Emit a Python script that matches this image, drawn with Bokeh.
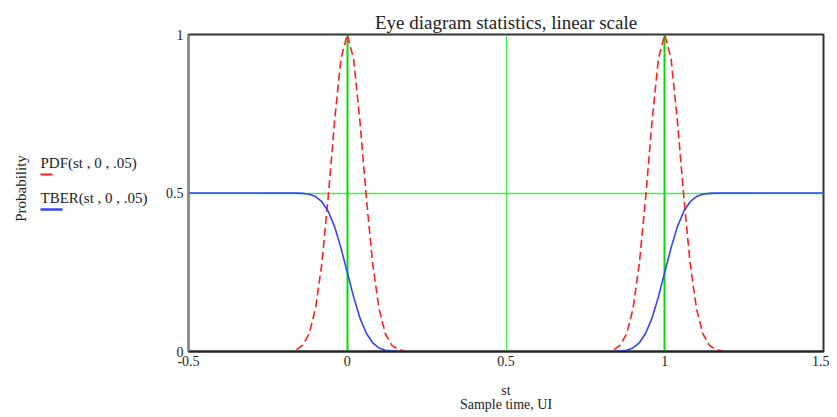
import math
from bokeh.plotting import figure
from bokeh.layouts import row
from bokeh.models import Range1d, FixedTicker, Grid
from bokeh.core.properties import value
from bokeh.embed import file_html
from bokeh.resources import INLINE

NAN = float("nan")

# ---- data ----
# PDF(st, 0, .05): two pulses (around 0 and around 1), gap between them
pdf_x = [-0.16, -0.14, -0.12, -0.10, -0.08, -0.06, -0.04, -0.02, 0.00,
         0.02, 0.04, 0.06, 0.08, 0.10, 0.12, 0.14, 0.16, 0.18,
         NAN,
         0.84, 0.86, 0.88, 0.90, 0.92, 0.94, 0.96, 0.98, 1.00,
         1.02, 1.04, 1.06, 1.08, 1.10, 1.12, 1.14, 1.16, 1.18]
pdf_y = [0.006, 0.02, 0.056, 0.135, 0.278, 0.487, 0.726, 0.923, 1.0,
         0.923, 0.726, 0.487, 0.278, 0.135, 0.056, 0.02, 0.006, 0.002,
         NAN,
         0.006, 0.02, 0.056, 0.135, 0.278, 0.487, 0.726, 0.923, 1.0,
         0.923, 0.726, 0.487, 0.278, 0.135, 0.056, 0.02, 0.006, 0.002]

# TBER(st, 0, .05)
tber_x = [-0.50, -0.16, -0.14, -0.12, -0.10, -0.08, -0.06, -0.04, -0.02, 0.00,
          0.02, 0.04, 0.06, 0.08, 0.10, 0.12, 0.14, 0.16,
          NAN,
          0.84, 0.86, 0.88, 0.90, 0.92, 0.94, 0.96, 0.98, 1.00,
          1.02, 1.04, 1.06, 1.08, 1.10, 1.12, 1.14, 1.16, 1.50]
tber_y = [0.5, 0.4997, 0.4987, 0.4959, 0.4886, 0.4726, 0.4425, 0.3941, 0.3277, 0.25,
          0.1723, 0.1059, 0.0575, 0.0274, 0.0114, 0.0041, 0.0013, 0.0003,
          NAN,
          0.0003, 0.0013, 0.0041, 0.0114, 0.0274, 0.0575, 0.1059, 0.1723, 0.25,
          0.3277, 0.3941, 0.4425, 0.4726, 0.4886, 0.4959, 0.4987, 0.4997, 0.5]

x_ticks = [-0.5, 0, 0.5, 1, 1.5]
x_tick_labels = ["-0.5", "0", "0.5", "1", "1.5"]
y_ticks = [0, 0.5, 1]
y_tick_labels = ["0", "0.5", "1"]

title_text = "Eye diagram statistics, linear scale"
x_label_1 = "st"
x_label_2 = "Sample time, UI"
y_label = "Probability"
legend_texts = ["PDF(st , 0 , .05)", "TBER(st , 0 , .05)"]
legend_colors = ["#ff2020", "#3344ff"]

FONT = "Liberation Serif"
TXT = "#222222"
H = 415
LEFT_W = 160
FRAME_TOP = 34
FRAME_BOTTOM = 351

# ---------------- main plot ----------------
p = figure(width=829 - LEFT_W, height=H, output_backend="svg", toolbar_location=None,
           x_range=Range1d(-0.5, 1.5), y_range=Range1d(0, 1),
           min_border_left=188 - LEFT_W, min_border_right=6,
           min_border_top=FRAME_TOP, min_border_bottom=H - FRAME_BOTTOM,
           background_fill_color="white", border_fill_color="white")

p.title.text = title_text
p.title.align = "center"
p.title.text_font = FONT
p.title.text_font_size = "19px"
p.title.text_font_style = "normal"
p.title.text_color = TXT
p.title.standoff = 4

p.outline_line_color = "#333333"
p.outline_line_width = 2

# grids
p.xgrid.ticker = FixedTicker(ticks=[0.5])
p.xgrid.grid_line_color = "#44ee44"
p.xgrid.grid_line_width = 1.2
p.ygrid.ticker = FixedTicker(ticks=[0.5])
p.ygrid.grid_line_color = "#44ee44"
p.ygrid.grid_line_width = 1.5
g2 = Grid(dimension=0, ticker=FixedTicker(ticks=[0, 1]),
          grid_line_color="#00dd00", grid_line_width=2)
p.add_layout(g2)

# axes
for ax in (p.xaxis[0], p.yaxis[0]):
    ax.major_tick_line_color = None
    ax.minor_tick_line_color = None
    ax.major_tick_out = 0
    ax.major_tick_in = 0
    ax.minor_tick_out = 0
    ax.minor_tick_in = 0
    ax.major_label_text_font = FONT
    ax.major_label_text_font_size = "14px"
    ax.major_label_text_color = TXT
p.xaxis.ticker = FixedTicker(ticks=x_ticks)
p.xaxis.major_label_overrides = {t: l for t, l in zip(x_ticks, x_tick_labels)}
p.yaxis.ticker = FixedTicker(ticks=y_ticks)
p.yaxis.major_label_overrides = {t: l for t, l in zip(y_ticks, y_tick_labels)}
p.xaxis.axis_line_color = "#222222"
p.xaxis.axis_line_width = 2
p.yaxis.axis_line_color = "#888888"
p.yaxis.axis_line_width = 1.5
p.xaxis.major_label_standoff = 4
p.yaxis.major_label_standoff = 5

p.xaxis.axis_label = x_label_1 + "\n" + x_label_2
p.xaxis.axis_label_text_font = FONT
p.xaxis.axis_label_text_font_size = "14px"
p.xaxis.axis_label_text_font_style = "normal"
p.xaxis.axis_label_text_color = TXT
p.xaxis.axis_label_text_line_height = 0.95
p.xaxis.axis_label_standoff = 14

# curves
p.line(pdf_x, pdf_y, line_color="#ff2020", line_width=1.6, line_dash="8 4")
p.line(tber_x, tber_y, line_color="#3344ff", line_width=1.6)

# ---------------- left strip: y label and legend ----------------
# its frame is aligned with the main frame; y range is in page pixels
q = figure(width=LEFT_W, height=H, output_backend="svg", toolbar_location=None,
           x_range=Range1d(0, LEFT_W), y_range=Range1d(FRAME_BOTTOM, FRAME_TOP),
           min_border_left=0, min_border_right=0,
           min_border_top=FRAME_TOP, min_border_bottom=H - FRAME_BOTTOM,
           outline_line_color=None,
           background_fill_color="white", border_fill_color="white")
q.axis.visible = False
q.grid.visible = False

q.text(x=[20], y=[188], text=[y_label], angle=math.pi / 2,
       text_font=value(FONT), text_font_size="15px", text_color=TXT,
       text_align="center", text_baseline="middle")
q.text(x=[40, 40], y=[162, 197], text=legend_texts,
       text_font=value(FONT), text_font_size="15px", text_color=TXT,
       text_align="left", text_baseline="middle")
q.segment(x0=[40, 40], y0=[174, 209], x1=[52, 62], y1=[174, 209],
          line_color=legend_colors, line_width=[2, 2.5])

layout = row(q, p, spacing=0)
open("out.html", "w").write(file_html(layout, INLINE))
